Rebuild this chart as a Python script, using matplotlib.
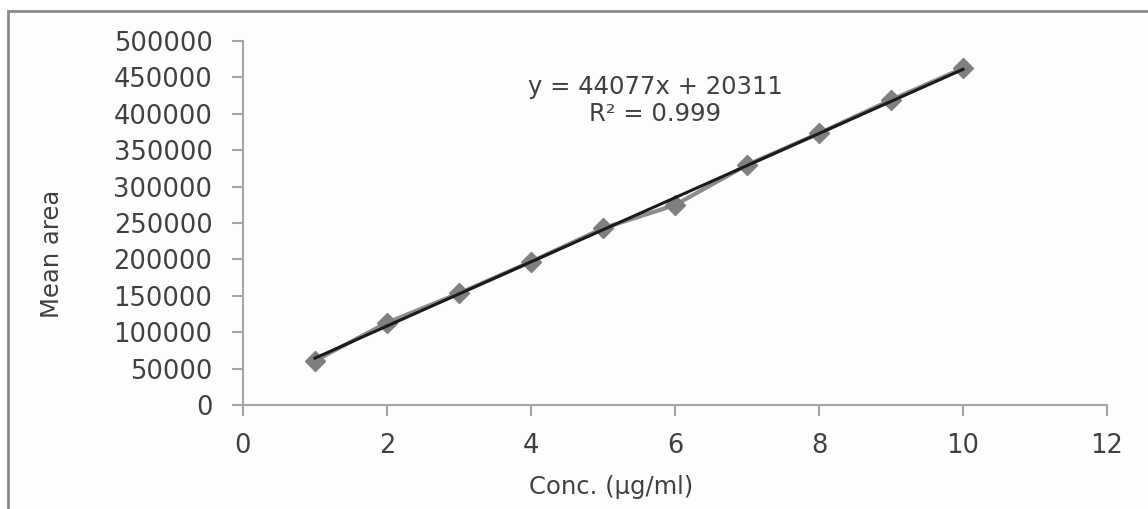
import numpy as np
import matplotlib.pyplot as plt
from matplotlib.patches import Rectangle

# concentration (ug/ml) and mean peak area
conc = [1, 2, 3, 4, 5, 6, 7, 8, 9, 10]
mean_area = [60900, 113000, 153400, 196800, 242700, 274700, 329700, 373200, 419000, 462500]

# linear trendline shown on the chart
slope = 44077
intercept = 20311
r2 = 0.999

x_ticks = [0, 2, 4, 6, 8, 10, 12]
y_ticks = [0, 50000, 100000, 150000, 200000, 250000, 300000, 350000, 400000, 450000, 500000]

W, H = 1148, 509
fig = plt.figure(figsize=(W / 100, H / 100), dpi=100)
fig.patch.set_facecolor('white')

# outer chart frame (left and top edges visible)
frame = Rectangle((8 / W, -0.2), 1.2, 1 - 11 / H + 0.2, transform=fig.transFigure,
                  facecolor='#fdfdfd', edgecolor='#8a8a8a', linewidth=2, zorder=-10)
fig.patches.append(frame)

ax = fig.add_axes([243 / W, 1 - 405 / H, (1107 - 243) / W, (405 - 41) / H])
ax.set_facecolor('none')
ax.set_zorder(5)

txt = '#404040'
grey = '#a6a6a6'

# data series
ax.plot(conc, mean_area, color='#8c8c8c', linewidth=3, marker='D', markersize=10,
        markerfacecolor='#7f7f7f', markeredgecolor='#7f7f7f', zorder=2, clip_on=False)

# trendline
xs = np.array([conc[0], conc[-1]])
ax.plot(xs, slope * xs + intercept, color='#1a1a1a', linewidth=2.2, zorder=3)

ax.set_xlim(0, 12)
ax.set_ylim(0, 500000)
ax.set_xticks(x_ticks)
ax.set_yticks(y_ticks)
ax.set_xticklabels([str(v) for v in x_ticks])
ax.set_yticklabels([str(v) for v in y_ticks])

for s in ['top', 'right']:
    ax.spines[s].set_visible(False)
for s in ['left', 'bottom']:
    ax.spines[s].set_color(grey)
    ax.spines[s].set_linewidth(1.5)

ax.tick_params(axis='both', colors=grey, width=1.5, length=8, labelcolor=txt, labelsize=18.5)
ax.tick_params(axis='y', pad=14)
ax.tick_params(axis='x', pad=12)

fig.text(52 / W, 1 - 254 / H, 'Mean area', rotation=90, ha='center', va='center',
         color=txt, fontsize=17.5)
fig.text(611 / W, 1 - 487 / H, 'Conc. (µg/ml)', ha='center', va='center',
         color=txt, fontsize=17.5)

fig.text(655 / W, 1 - 87 / H, 'y = %dx + %d' % (slope, intercept), ha='center', va='center',
         color=txt, fontsize=17.5)
fig.text(655 / W, 1 - 114 / H, 'R² = %.3f' % r2, ha='center', va='center',
         color=txt, fontsize=17.5)

fig.savefig('out.png', dpi=100)
